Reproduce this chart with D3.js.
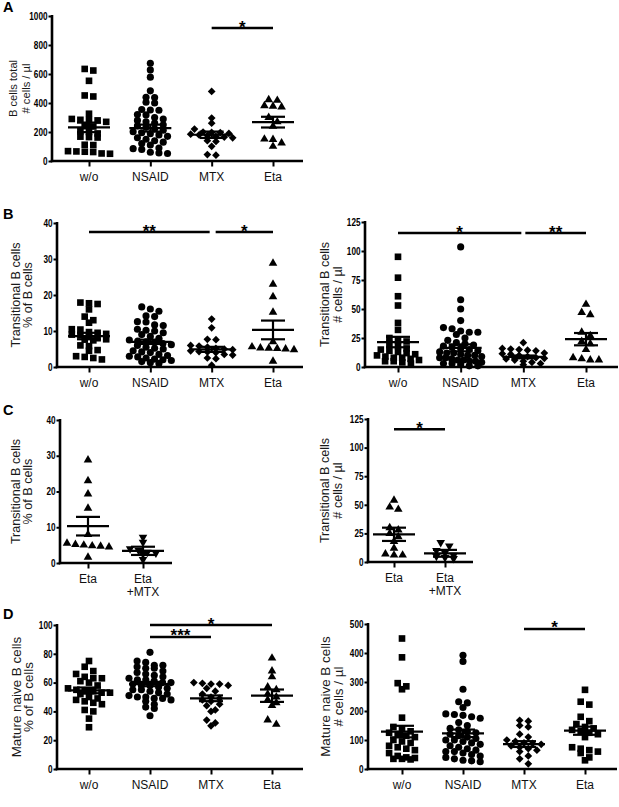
<!DOCTYPE html>
<html><head><meta charset="utf-8">
<script src="https://cdn.jsdelivr.net/npm/d3@7"></script>
<style>body{margin:0;background:#fff}svg{display:block}</style>
</head><body><svg id="c" width="619" height="807"></svg>
<script>
// ---------- categories & ticks ----------
const cats4 = ["w/o", "NSAID", "MTX", "Eta"];
const catsC = ["Eta", "Eta\n+MTX"];
const ticksA = [0, 200, 400, 600, 800, 1000];
const ticksPct = [0, 10, 20, 30, 40];
const ticksTrans = [0, 25, 50, 75, 100, 125];
const ticksD = [0, 20, 40, 60, 80, 100];
const ticksDc = [0, 100, 200, 300, 400, 500];

// ---------- Panel A: B cells total (# cells / µl) ----------
const aWo = [635, 624, 553, 452, 445, 326, 290, 284, 282, 280, 270, 240, 238, 205, 200, 190, 168, 165, 162, 112, 110, 68, 66, 64, 62, 52, 50];
const aNsaid = [674, 628, 578, 484, 440, 438, 405, 400, 355, 352, 350, 320, 318, 300, 290, 280, 270, 262, 250, 242, 232, 222, 212, 202, 195, 188, 180, 170, 160, 150, 140, 130, 120, 110, 90, 85, 80, 60, 55, 52];
const aMtx = [480, 296, 261, 220, 200, 197, 195, 190, 185, 180, 175, 170, 165, 160, 140, 135, 101, 44, 40];
const aEta = [422, 418, 381, 377, 372, 300, 270, 240, 151, 148, 124, 101];
const aMean = [232, 227, 181, 268];
const aSem = [33, 24, 22, 37];

// ---------- Panel B left: Transitional B cells (% of B cells) ----------
const bWo = [17.9, 17.7, 17.5, 16, 14, 13, 12.3, 10.5, 10.4, 9.7, 9.5, 9.2, 9, 8.8, 8.4, 8.0, 7.7, 7.6, 7.4, 6, 5.8, 4.7, 4.5, 3, 2.8, 2.5, 2.1];
const bNsaid = [16.7, 16.1, 15.5, 14.2, 14, 12.6, 12.5, 11.7, 11.5, 10.5, 10.2, 10, 9.5, 9, 8.5, 8, 7.5, 7.2, 7, 6.8, 6.5, 6.2, 6, 5.5, 5.2, 5, 4.5, 4.2, 4, 3.5, 3.2, 3, 2.8, 2.5, 2.2, 2, 1.8, 1.5, 1.2, 1];
const bMtx = [13.3, 10.9, 7.7, 7.6, 6, 5.8, 5.5, 5.2, 5, 4.8, 4.5, 4.3, 4.2, 4, 3.5, 3.3, 2.5, 2.3, 0.5];
const bEta = [28.8, 23, 19.5, 15.2, 7, 5.6, 5.3, 5.2, 5.1, 5, 4.8, 1.6];
const bMean = [8.6, 7.0, 4.9, 10.3];
const bSem = [0.9, 0.6, 0.7, 2.6];

// ---------- Panel B right: Transitional B cells (# cells / µl) ----------
const bcWo = [95, 77, 61, 53, 38, 32, 25, 23, 22, 20, 18, 16, 15, 14, 13, 12, 11, 10, 9, 8, 8, 7, 6, 5, 5, 4, 3];
const bcNsaid = [103.5, 58, 50, 40, 34, 33, 31, 30, 30, 28, 25, 23, 21, 20, 19, 18, 17, 16, 15, 14, 13, 12, 12, 11, 10, 10, 9, 8, 8, 7, 6, 6, 5, 5, 4, 3, 3, 2, 1, 1];
const bcMtx = [21, 16, 15.5, 15, 14.5, 14, 12, 11.5, 11, 10, 9, 8, 7.5, 7, 6, 5, 4, 3, 2];
const bcEta = [54, 47, 45, 30, 27, 22, 20, 15, 8, 7, 6, 6];
const bcMean = [21.5, 16.5, 8.7, 24];
const bcSem = [4.5, 3, 1.2, 5.3];

// ---------- Panel C left / right ----------
const cEta = [28.8, 23, 19.3, 15.3, 8, 5.5, 5.2, 5, 4.8, 4.7, 4.5, 1.6];
const cEtaMtx = [7.2, 5.8, 4, 3.5, 3, 2.8, 2.5, 1];
const cMean = [10.3, 3.4];
const cSem = [2.6, 1.15];
const ccEta = [54, 48, 46, 30, 28, 25, 22, 18, 12, 7, 6, 6];
const ccEtaMtx = [17, 14, 10, 8, 6, 5, 4, 3];
const ccMean = [24.2, 7.6];
const ccSem = [5.8, 3];

// ---------- Panel D left: Mature naive B cells (% of B cells) ----------
const dWo = [75, 71, 68, 66, 64, 63, 63, 61, 60, 58, 56, 55, 54, 54, 53, 53, 52, 50, 49, 48, 47, 46, 45, 41, 40, 35, 29];
const dNsaid = [81, 75, 74, 72, 72, 71, 70, 70, 68, 67, 66, 65, 64, 63, 62, 62, 61, 60, 60, 59, 58, 58, 57, 56, 55, 55, 54, 53, 52, 51, 50, 50, 49, 49, 48, 47, 45, 43, 42, 37];
const dMtx = [60, 59.5, 59, 59, 58, 56, 54, 52, 50, 49, 48, 47, 45, 44, 41, 40, 34, 32, 30];
const dEta = [77, 68, 64, 57, 55, 52, 50, 48, 46, 44, 34, 31];
const dMean = [54.6, 59.0, 49.1, 50.9];
const dSem = [2.0, 1.5, 2.0, 4.3];

// ---------- Panel D right: Mature naive B cells (# cells / µl) ----------
const dcWo = [450, 385, 296, 285, 275, 177, 145, 140, 130, 125, 120, 115, 110, 100, 95, 90, 80, 75, 70, 65, 55, 45, 40, 38, 35, 35, 33];
const dcNsaid = [392, 371, 275, 232, 228, 212, 190, 188, 185, 180, 175, 160, 150, 140, 135, 130, 125, 120, 115, 110, 105, 100, 100, 95, 90, 85, 80, 75, 70, 65, 60, 60, 55, 50, 45, 40, 35, 30, 28, 25];
const dcMtx = [168, 165, 150, 145, 120, 110, 100, 95, 90, 88, 85, 80, 75, 70, 65, 60, 45, 35, 18];
const dcEta = [273, 232, 222, 180, 165, 155, 145, 140, 135, 130, 125, 120, 110, 75, 70, 65, 60, 55, 40, 30];
const dcMean = [129, 123, 86, 132];
const dcSem = [20, 13, 10, 14];

// ---------- layout ----------
const FONT = "'Liberation Sans', Arial, Helvetica, sans-serif";
const svg = d3.select("#c");

const panels = [
  {letter: "A", ly: 12, cats: cats4, series: [aWo, aNsaid, aMtx, aEta], shapes: ["square", "circle", "diamond", "triangle"],
   mean: aMean, sem: aSem, ymax: 1000, ticks: ticksA, x0: 52, x1: 303, c0: 89, c1: 273, yTop: 16, yBot: 161,
   label: ["B cells total", "# cells / µl"], labX: [13, 26], labFs: 11.2,
   sig: [{a: "MTX", b: "Eta", lvl: 917, t: "*"}]},
  {letter: "B", ly: 219, cats: cats4, series: [bWo, bNsaid, bMtx, bEta], shapes: ["square", "circle", "diamond", "triangle"],
   mean: bMean, sem: bSem, ymax: 40, ticks: ticksPct, x0: 57, x1: 303, c0: 89, c1: 273, yTop: 223, yBot: 367,
   label: ["Transitional B cells", "% of B cells"], labX: [16, 28], labFs: 12.6,
   sig: [{a: "w/o", b: "MTX", lvl: 37.5, t: "**", gR: 2}, {a: "MTX", b: "Eta", lvl: 37.5, t: "*", gL: 4}]},
  {letter: null, cats: cats4, series: [bcWo, bcNsaid, bcMtx, bcEta], shapes: ["square", "circle", "diamond", "triangle"],
   mean: bcMean, sem: bcSem, ymax: 125, ticks: ticksTrans, x0: 365, x1: 618, c0: 398, c1: 586, yTop: 222, yBot: 367,
   label: ["Transitional B cells", "# cells / µl"], labX: [325, 338], labFs: 12.6,
   sig: [{a: "w/o", b: "MTX", lvl: 115.5, t: "*", gR: 2}, {a: "MTX", b: "Eta", lvl: 115.5, t: "**", gL: 2}]},
  {letter: "C", ly: 415, cats: catsC, series: [cEta, cEtaMtx], shapes: ["triangle", "down"],
   mean: cMean, sem: cSem, ymax: 40, ticks: ticksPct, x0: 60, x1: 172, c0: 88, c1: 143, yTop: 420, yBot: 563,
   label: ["Transitional B cells", "% of B cells"], labX: [16, 28], labFs: 12.6, sig: []},
  {letter: null, cats: catsC, series: [ccEta, ccEtaMtx], shapes: ["triangle", "down"],
   mean: ccMean, sem: ccSem, ymax: 125, ticks: ticksTrans, x0: 368, x1: 473, c0: 394, c1: 445, yTop: 419, yBot: 562,
   label: ["Transitional B cells", "# cells / µl"], labX: [325, 338], labFs: 12.6,
   sig: [{a: "Eta", b: "Eta\n+MTX", lvl: 116, t: "*"}]},
  {letter: "D", ly: 619, cats: cats4, series: [dWo, dNsaid, dMtx, dEta], shapes: ["square", "circle", "diamond", "triangle"],
   mean: dMean, sem: dSem, ymax: 100, ticks: ticksD, x0: 57, x1: 303, c0: 89, c1: 272, yTop: 625, yBot: 769,
   label: ["Mature naive B cells", "% of B cells"], labX: [16, 28], labFs: 13.4,
   sig: [{a: "NSAID", b: "Eta", lvl: 100, t: "*"}, {a: "NSAID", b: "MTX", lvl: 91.7, t: "***"}]},
  {letter: null, cats: cats4, series: [dcWo, dcNsaid, dcMtx, dcEta], shapes: ["square", "circle", "diamond", "square"],
   mean: dcMean, sem: dcSem, ymax: 500, ticks: ticksDc, x0: 368, x1: 617, c0: 402, c1: 585, yTop: 624, yBot: 769,
   label: ["Mature naive B cells", "# cells / µl"], labX: [325, 338], labFs: 13.4,
   sig: [{a: "MTX", b: "Eta", lvl: 483, t: "*"}]}
];

const sym = {
  square: {type: d3.symbolSquare, size: 44, rot: 0},
  circle: {type: d3.symbolCircle, size: 40, rot: 0},
  diamond: {type: d3.symbolSquare, size: 30, rot: 45},
  triangle: {type: d3.symbolTriangle, size: 32, rot: 0},
  down: {type: d3.symbolTriangle, size: 32, rot: 180}
};

// GraphPad-like scatter: points in the same height band spread symmetrically,
// rows compressed so a column never exceeds a maximum half-width
function spread(vals, y, step, band, halfW) {
  const pts = vals.map(v => ({v, py: y(v)})).sort((a, b) => a.py - b.py);
  const rows = [];
  let cur = null;
  pts.forEach(p => {
    if (!cur || p.py - cur.start > band) { cur = {start: p.py, pts: []}; rows.push(cur); }
    cur.pts.push(p);
  });
  rows.forEach(r => {
    const n = r.pts.length;
    const st = n > 1 ? Math.min(step, 2 * halfW / (n - 1)) : 0;
    r.pts.forEach((p, i) => { p.dx = (i - (n - 1) / 2) * st; });
  });
  return pts;
}

const TSX = 0.82; // narrow tick digits

panels.forEach(P => {
  const g = svg.append("g");
  const y = d3.scaleLinear().domain([0, P.ymax]).range([P.yBot, P.yTop]);
  const x = d3.scalePoint().domain(P.cats).range([P.c0, P.c1]);

  if (P.letter) {
    g.append("text").attr("x", 3).attr("y", P.ly).text(P.letter)
      .attr("font-family", FONT).attr("font-weight", "bold").attr("font-size", 14.5).attr("fill", "#000");
  }

  // y axis
  const ya = g.append("g").attr("transform", `translate(${P.x0},0)`)
    .call(d3.axisLeft(y).tickValues(P.ticks).tickFormat(d3.format("d")).tickSize(3.5).tickSizeOuter(0).tickPadding(1));
  ya.select(".domain").remove();
  ya.selectAll(".tick line").attr("stroke", "#000").attr("stroke-width", 2);
  ya.selectAll(".tick text").attr("font-family", FONT).attr("font-weight", "bold")
    .attr("font-size", 10).attr("fill", "#000")
    .attr("x", -4.5 / TSX).attr("transform", `scale(${TSX},1)`);
  g.append("line").attr("x1", P.x0).attr("x2", P.x0).attr("y1", P.yTop - 1).attr("y2", P.yBot + 1.2)
    .attr("stroke", "#000").attr("stroke-width", 2.6);

  // x axis
  const xa = g.append("g").attr("transform", `translate(0,${P.yBot})`)
    .call(d3.axisBottom(x).tickSize(5.5).tickSizeOuter(0).tickFormat(""));
  xa.select(".domain").remove();
  xa.selectAll(".tick line").attr("stroke", "#000").attr("stroke-width", 2);
  g.append("line").attr("x1", P.x0 - 1.3).attr("x2", P.x1).attr("y1", P.yBot).attr("y2", P.yBot)
    .attr("stroke", "#000").attr("stroke-width", 2.6);
  P.cats.forEach(c => {
    const t = g.append("text").attr("x", x(c)).attr("y", P.yBot + 20).attr("text-anchor", "middle")
      .attr("font-family", FONT).attr("font-size", 12).attr("fill", "#111");
    c.split("\n").forEach((ln, i) => {
      t.append("tspan").attr("x", x(c)).attr("dy", i ? 13 : 0).text(ln);
    });
  });

  // y label
  const cy = (P.yTop + P.yBot) / 2;
  P.label.forEach((ln, i) => {
    g.append("text").attr("transform", `translate(${P.labX[i]},${cy}) rotate(-90)`)
      .attr("text-anchor", "middle").attr("dy", "0.35em")
      .attr("font-family", FONT).attr("font-size", P.labFs).attr("fill", "#1a1a1a").text(ln);
  });

  // points
  P.series.forEach((vals, k) => {
    const s = sym[P.shapes[k]];
    const cx = x(P.cats[k]);
    const pts = spread(vals, y, 8.6, 5, 21);
    const gen = d3.symbol().type(s.type).size(s.size);
    g.append("g").selectAll("path").data(pts).join("path")
      .attr("d", gen)
      .attr("transform", d => `translate(${cx + d.dx},${d.py}) rotate(${s.rot})`)
      .attr("fill", "#000");
  });

  // mean ± SEM
  P.mean.forEach((m, k) => {
    const cx = x(P.cats[k]);
    const se = P.sem[k];
    const L = (x1, x2, y1, y2) => g.append("line").attr("x1", x1).attr("x2", x2).attr("y1", y1).attr("y2", y2)
      .attr("stroke", "#000").attr("stroke-width", 2.2);
    L(cx - 21, cx + 21, y(m), y(m));
    L(cx - 12, cx + 12, y(m + se), y(m + se));
    L(cx - 12, cx + 12, y(m - se), y(m - se));
    L(cx, cx, y(m + se), y(m - se));
  });

  // significance bars
  P.sig.forEach(s => {
    const xa1 = x(s.a) + (s.gL || 0), xb1 = x(s.b) - (s.gR || 0);
    const yy = y(s.lvl);
    g.append("line").attr("x1", xa1).attr("x2", xb1).attr("y1", yy).attr("y2", yy)
      .attr("stroke", "#000").attr("stroke-width", 2.6);
    g.append("text").attr("x", (xa1 + xb1) / 2).attr("y", yy + 4.5).attr("text-anchor", "middle")
      .attr("font-family", FONT).attr("font-weight", "bold").attr("font-size", 17).attr("fill", "#000").text(s.t);
  });
});
</script>
</body></html>
